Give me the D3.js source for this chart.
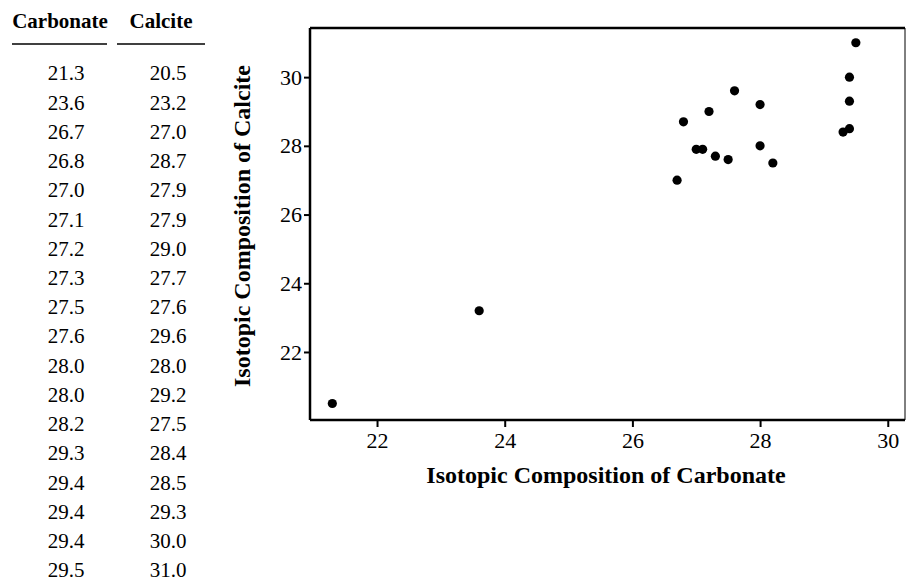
<!DOCTYPE html>
<html>
<head>
<meta charset="utf-8">
<script src="https://cdn.jsdelivr.net/npm/d3@7"></script>
<style>
  body { margin: 0; background: #fff; }
  svg { display: block; font-family: "Liberation Serif", "DejaVu Serif", serif; }
</style>
</head>
<body>
<div id="chart"></div>
<script>
const carbonate = [21.3, 23.6, 26.7, 26.8, 27.0, 27.1, 27.2, 27.3, 27.5, 27.6, 28.0, 28.0, 28.2, 29.3, 29.4, 29.4, 29.4, 29.5];
const calcite   = [20.5, 23.2, 27.0, 28.7, 27.9, 27.9, 29.0, 27.7, 27.6, 29.6, 28.0, 29.2, 27.5, 28.4, 28.5, 29.3, 30.0, 31.0];
const xTicks = [22, 24, 26, 28, 30];
const yTicks = [22, 24, 26, 28, 30];
const xDomain = [20.95, 30.27];
const yDomain = [20.02, 31.43];

const width = 906, height = 584;
const plot = { left: 310, right: 905, top: 28, bottom: 420 };

const svg = d3.select("#chart").append("svg")
    .attr("width", width)
    .attr("height", height);

// Table on the left
const table = svg.append("g");
const colX = [60, 161];
const numX = [66, 168];
const headers = ["Carbonate", "Calcite"];
const underline = [[12, 107], [117, 205]];

headers.forEach((h, i) => {
    table.append("text")
        .attr("x", colX[i])
        .attr("y", 28)
        .attr("text-anchor", "middle")
        .attr("font-weight", "bold")
        .attr("font-size", "21px")
        .text(h);
    table.append("line")
        .attr("x1", underline[i][0]).attr("x2", underline[i][1])
        .attr("y1", 44).attr("y2", 44)
        .attr("stroke", "#000").attr("stroke-width", 1.5);
});

const rowY = d3.scaleLinear().domain([0, carbonate.length - 1]).range([73, 570]);
carbonate.forEach((c, i) => {
    table.append("text")
        .attr("x", numX[0]).attr("y", rowY(i))
        .attr("dy", "0.35em")
        .attr("text-anchor", "middle")
        .attr("font-size", "21px")
        .text(c.toFixed(1));
    table.append("text")
        .attr("x", numX[1]).attr("y", rowY(i))
        .attr("dy", "0.35em")
        .attr("text-anchor", "middle")
        .attr("font-size", "21px")
        .text(calcite[i].toFixed(1));
});

// Scatter plot
const x = d3.scaleLinear().domain(xDomain).range([plot.left, plot.right]);
const y = d3.scaleLinear().domain(yDomain).range([plot.bottom, plot.top]);

const xAxis = svg.append("g")
    .attr("transform", `translate(0,${plot.bottom})`)
    .call(d3.axisBottom(x).tickValues(xTicks).tickSize(7).tickSizeOuter(0).tickPadding(5));
const yAxis = svg.append("g")
    .attr("transform", `translate(${plot.left},0)`)
    .call(d3.axisLeft(y).tickValues(yTicks).tickSize(6).tickSizeOuter(0).tickPadding(2));

[xAxis, yAxis].forEach(a => {
    a.select(".domain").remove();
    a.selectAll(".tick line").attr("stroke", "#000").attr("stroke-width", 2);
    a.selectAll(".tick text")
        .attr("fill", "#000")
        .attr("font-size", "22px")
        .attr("font-family", "Liberation Serif, serif");
});

// Frame
svg.append("line")
    .attr("x1", plot.left).attr("x2", plot.right)
    .attr("y1", plot.bottom).attr("y2", plot.bottom)
    .attr("stroke", "#000").attr("stroke-width", 2.5);
svg.append("line")
    .attr("x1", plot.left).attr("x2", plot.left)
    .attr("y1", plot.top).attr("y2", plot.bottom)
    .attr("stroke", "#000").attr("stroke-width", 2.5);
svg.append("line")
    .attr("x1", plot.left).attr("x2", plot.right)
    .attr("y1", plot.top).attr("y2", plot.top)
    .attr("stroke", "#000").attr("stroke-width", 2.5);
svg.append("line")
    .attr("x1", plot.right).attr("x2", plot.right)
    .attr("y1", plot.top).attr("y2", plot.bottom)
    .attr("stroke", "#000").attr("stroke-width", 1);

// Points
svg.selectAll(".pt")
    .data(carbonate.map((c, i) => ({ c, k: calcite[i] })))
    .enter()
    .append("circle")
    .attr("class", "pt")
    .attr("cx", d => x(d.c))
    .attr("cy", d => y(d.k))
    .attr("r", 4.6)
    .attr("fill", "#000");

// Axis titles
svg.append("text")
    .attr("x", 606)
    .attr("y", 483)
    .attr("text-anchor", "middle")
    .attr("font-weight", "bold")
    .attr("font-size", "24px")
    .text("Isotopic Composition of Carbonate");

svg.append("text")
    .attr("transform", `translate(250,226) rotate(-90)`)
    .attr("text-anchor", "middle")
    .attr("font-weight", "bold")
    .attr("font-size", "24px")
    .text("Isotopic Composition of Calcite");
</script>
</body>
</html>
